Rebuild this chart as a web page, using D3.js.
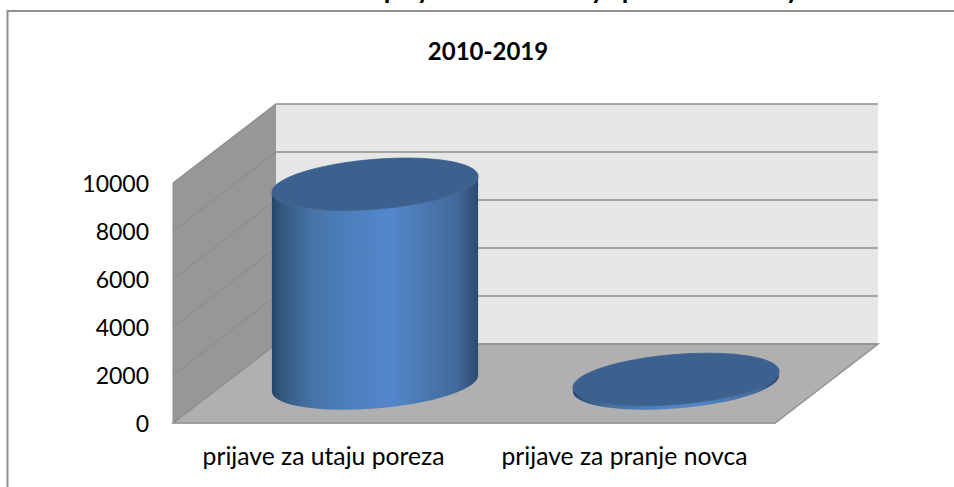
<!DOCTYPE html>
<html><head><meta charset="utf-8">
<script src="https://cdn.jsdelivr.net/npm/d3@7"></script>
<style>html,body{margin:0;padding:0;background:#fff;overflow:hidden}svg{display:block}text{font-family:Lato,"Open Sans",sans-serif;fill:#000}</style>
</head><body><svg id="c" width="954" height="487"></svg>
<script>
const categories = ["prijave za utaju poreza", "prijave za pranje novca"];
const values = [8300, 170];
const tickValues = [0, 2000, 4000, 6000, 8000, 10000];
const subtitle = "2010-2019";

const svg = d3.select("#c");
const x0 = 173, x1 = 775, dx = 103, dy = -79;
const y = d3.scaleLinear().domain([0, 10000]).range([423, 183]);
const x = d3.scaleBand().domain(categories).range([x0, x1]);

const defs = svg.append("defs");
const grad = defs.append("linearGradient").attr("id", "cyl").attr("x1", 0).attr("x2", 1).attr("y1", 0).attr("y2", 0);
[[0, "#27436a"], [0.05, "#35597f"], [0.2, "#4674a8"], [0.38, "#4d7fbd"], [0.58, "#5387cb"], [0.75, "#4a78b0"], [0.9, "#41689a"], [1, "#2d4a6f"]]
  .forEach(([o, c]) => grad.append("stop").attr("offset", o).attr("stop-color", c));

// outer frame, running off the top right and bottom left of the picture
svg.append("path").attr("d", "M7.5,487V11H954").attr("fill", "none").attr("stroke", "#8f8f8f").attr("stroke-width", 2);

// clipped page heading: only the descenders remain inside the picture
svg.append("text").attr("y", -1.5).attr("font-size", 24).attr("font-weight", 900)
  .selectAll("tspan").data([[384, "p"], [417, "y"], [591, "y"], [622, "p"], [786, "y"]]).join("tspan")
  .attr("x", d => d[0]).text(d => d[1]);

svg.append("text").attr("x", 488).attr("y", 60).attr("text-anchor", "middle")
  .attr("font-size", 24).attr("font-weight", 700).text(subtitle);

// walls
const yTop = y(10000), yBot = y(0);
svg.append("path").attr("d", `M${x0},${yTop}L${x0 + dx},${yTop + dy}V${yBot + dy}L${x0},${yBot}Z`).attr("fill", "#979797");
svg.append("rect").attr("x", x0 + dx).attr("y", yTop + dy).attr("width", x1 - x0).attr("height", yBot - yTop).attr("fill", "#e6e6e6");
svg.append("path").attr("d", `M${x0},${yBot}L${x0 + dx},${yBot + dy}H${x1 + dx}L${x1},${yBot}Z`)
  .attr("fill", "#b0b0b0").attr("stroke", "#9a9a9a").attr("stroke-width", 1.5);
svg.append("path").attr("d", `M${x0},${yBot}V${yTop}`).attr("stroke", "#8c8c8c").attr("stroke-width", 1).attr("fill", "none");

// gridlines
svg.append("g").selectAll("path").data(tickValues).join("path")
  .attr("d", v => `M${x0},${y(v)}L${x0 + dx},${y(v) + dy}H${x1 + dx}`)
  .attr("fill", "none").attr("stroke", "#8e8e8e").attr("stroke-width", 1.3);
svg.append("path").attr("d", `M${x0},${yBot}H${x1}L${x1 + dx},${yBot + dy}`).attr("fill", "none").attr("stroke", "#9a9a9a").attr("stroke-width", 1.5);

// cylinders
const a = x.bandwidth() / 2 * 0.685, b = 25, k = 8;
const ts = d3.range(0, 73).map(i => i * 5 * Math.PI / 180);
const pt = (cx, cy, t) => [cx + a * Math.cos(t), cy + b * Math.sin(t) - k * Math.cos(t)];
values.forEach((v, i) => {
  const cx = x(categories[i]) + x.bandwidth() / 2 + dx / 2;
  const base = y(0) + dy / 2, h = y(0) - y(v), topC = base - h;
  const lower = ts.filter(t => t <= Math.PI);
  const bodyPts = [...lower.map(t => pt(cx, base, t)), ...lower.slice().reverse().map(t => pt(cx, topC, t))];
  svg.append("path").attr("d", d3.line()(bodyPts) + "Z").attr("fill", "url(#cyl)");
  svg.append("path").attr("d", d3.line()(ts.map(t => pt(cx, topC, t))) + "Z")
    .attr("fill", "#3c618f").attr("stroke", "#3a5f8e").attr("stroke-width", 0.8);
});

// axes
const ay = svg.append("g").attr("transform", `translate(${x0 - 24},1)`)
  .call(d3.axisLeft(y).tickValues(tickValues).tickFormat(d3.format("d")).tickSize(0).tickPadding(0));
ay.select(".domain").remove();
ay.selectAll("text").attr("font-size", 23).attr("font-family", "Lato").attr("fill", "#000");
const ax = svg.append("g").attr("transform", `translate(0,${yBot + 24})`)
  .call(d3.axisBottom(x).tickSize(0).tickPadding(0));
ax.select(".domain").remove();
ax.selectAll("text").attr("font-size", 24.7).attr("font-family", "Lato").attr("fill", "#000");
</script></body></html>
